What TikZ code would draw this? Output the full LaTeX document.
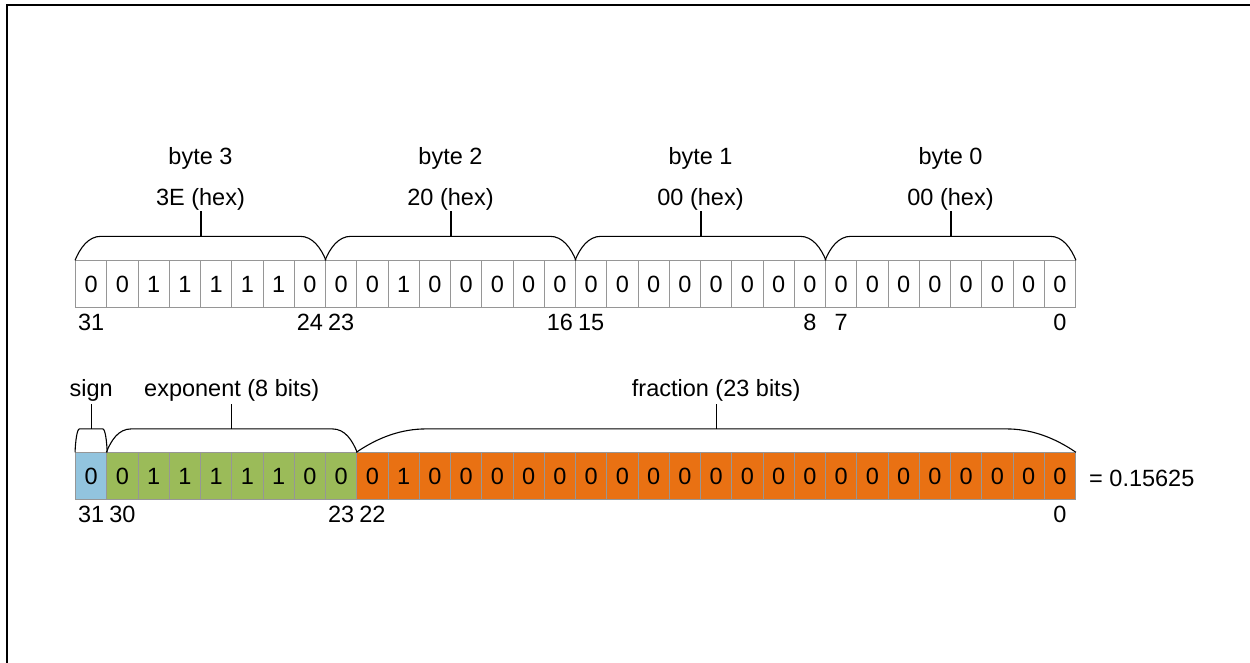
\documentclass[tikz,border=0pt]{standalone}
\usepackage{fontspec}
\setmainfont{Liberation Sans}
\usetikzlibrary{calc}
\definecolor{cellgray}{RGB}{150,150,150}
\definecolor{signblue}{RGB}{146,196,222}
\definecolor{expgreen}{RGB}{155,187,89}
\definecolor{fracorange}{RGB}{233,113,19}
\begin{document}
\begin{tikzpicture}[x=1pt,y=-1pt,font=\fontsize{23.5}{28}\selectfont,
  cellbox/.style={draw=cellgray, line width=0.9pt, minimum width=31.25pt, minimum height=46.5pt, inner sep=0pt},
  lbl/.style={inner sep=0pt, anchor=base},
  brace/.style={line width=1.1pt},
  tick/.style={line width=2pt},
  thintick/.style={line width=1.1pt}]
\useasboundingbox (0,0) rectangle (1250,663);
\draw[line width=2pt] (7,663) -- (7,5) -- (1250,5);
% top row
\foreach \v [count=\i from 0] in {0,0,1,1,1,1,1,0,0,0,1,0,0,0,0,0,0,0,0,0,0,0,0,0,0,0,0,0,0,0,0,0}{
  \pgfmathtruncatemacro{\b}{31-\i}
  \node[cellbox] (t\b) at ({75.5+(\i+0.5)*31.25},284) {\v};
}
% bottom row
\foreach \v [count=\i from 0] in {0,0,1,1,1,1,1,0,0,0,1,0,0,0,0,0,0,0,0,0,0,0,0,0,0,0,0,0,0,0,0,0}{
  \pgfmathtruncatemacro{\b}{31-\i}
  \ifnum\i=0 \def\fc{signblue}\else\ifnum\i<9 \def\fc{expgreen}\else\def\fc{fracorange}\fi\fi
  \node[cellbox, fill=\fc] (b\b) at ({75.5+(\i+0.5)*31.25},476) {\v};
}
% top bit numbers
\foreach \b in {31,24,23,16,15,8,7,0}{
  \node[lbl] (nt\b) at ($(t\b.south)+(0,22.5)$) {\b};
}
% bottom bit numbers
\foreach \b in {31,30,23,22,0}{
  \node[lbl] (nb\b) at ($(b\b.south)+(0,22.5)$) {\b};
}
% byte braces
\foreach \l/\r/\k/\h in {31/24/3/3E,23/16/2/20,15/8/1/00,7/0/0/00}{
  \coordinate (L) at (t\l.north west);
  \coordinate (R) at (t\r.north east);
  \coordinate (M\k) at ($(L)!0.5!(R)+(0,-24)$);
  \node[lbl] (hex\k) at ($(M\k)+(0,-30.5)$) {\h\ (hex)};
  \node[lbl] (byte\k) at ($(M\k)+(0,-71.5)$) {byte \k};
  \draw[brace] (L) .. controls ($(L)+(5,-12)$) and ($(L)+(13,-24)$) .. ($(L)+(26,-24)$)
     -- ($(R)+(-26,-24)$) .. controls ($(R)+(-13,-24)$) and ($(R)+(-5,-12)$) .. (R);
  \draw[tick] (M\k) -- (hex\k.south);
}
% sign brace
\coordinate (SL) at (b31.north west);
\coordinate (SR) at (b31.north east);
\coordinate (SM) at ($(SL)!0.5!(SR)+(0,-23.4)$);
\node[lbl, inner sep=3pt] (sign) at ($(SM)+(0,-32.5)$) {sign};
\draw[brace] (SL) .. controls ($(SL)+(0.5,-12)$) and ($(SL)+(2,-23.4)$) .. ($(SL)+(4.5,-23.4)$)
   -- ($(SR)+(-4.5,-23.4)$) .. controls ($(SR)+(-2,-23.4)$) and ($(SR)+(-0.5,-12)$) .. (SR);
\draw[thintick] (SM) -- (sign.south);
% exponent brace
\coordinate (EL) at (b30.north west);
\coordinate (ER) at (b23.north east);
\coordinate (EM) at ($(EL)!0.5!(ER)+(0,-23.4)$);
\node[lbl, inner sep=3pt] (expo) at ($(EM)+(0,-32.5)$) {exponent (8 bits)};
\draw[brace] (EL) .. controls ($(EL)+(5,-12)$) and ($(EL)+(12,-23.4)$) .. ($(EL)+(25,-23.4)$)
   -- ($(ER)+(-25,-23.4)$) .. controls ($(ER)+(-12,-23.4)$) and ($(ER)+(-5,-12)$) .. (ER);
\draw[thintick] (EM) -- (expo.south);
% fraction brace
\coordinate (FL) at (b22.north west);
\coordinate (FR) at (b0.north east);
\coordinate (FM) at ($(FL)!0.5!(FR)+(0,-23.4)$);
\node[lbl, inner sep=3pt] (frac) at ($(FM)+(0,-32.5)$) {fraction (23 bits)};
\draw[brace] (FL) .. controls ($(FL)+(22,-15)$) and ($(FL)+(45,-23.4)$) .. ($(FL)+(70,-23.4)$)
   -- ($(FR)+(-70,-23.4)$) .. controls ($(FR)+(-45,-23.4)$) and ($(FR)+(-22,-15)$) .. (FR);
\draw[thintick] (FM) -- (frac.south);
% result
\node[lbl, anchor=base west] (res) at (1089,486) {= 0.15625};
\end{tikzpicture}
\end{document}
